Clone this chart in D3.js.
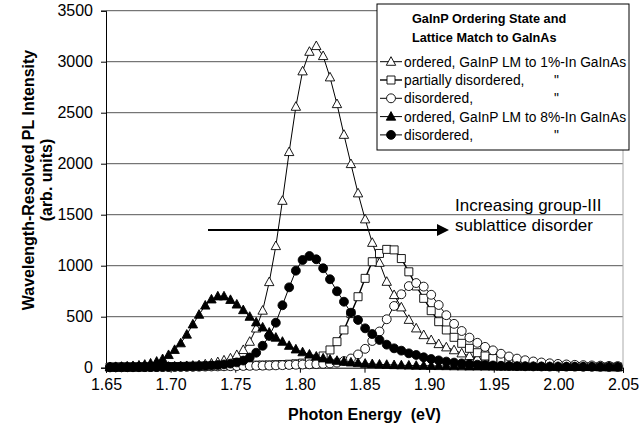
<!DOCTYPE html>
<html>
<head>
<meta charset="utf-8">
<script src="https://cdn.jsdelivr.net/npm/d3@7/dist/d3.min.js"></script>
<style>
  body { margin: 0; background: #fff; }
  text { font-family: "Liberation Sans", Arial, sans-serif; fill: #000; }
</style>
</head>
<body>
<svg id="chart" width="639" height="436"></svg>
<script>
// photon energy (eV) of each sample, 2 nm steps from 750 nm down to 606 nm
const energy = [
  1.6531, 1.6575, 1.6620, 1.6664, 1.6709, 1.6755, 1.6800, 1.6845, 1.6892, 1.6938,
  1.6984, 1.7031, 1.7078, 1.7125, 1.7172, 1.7220, 1.7268, 1.7316, 1.7365, 1.7413,
  1.7463, 1.7512, 1.7562, 1.7612, 1.7662, 1.7712, 1.7763, 1.7814, 1.7865, 1.7917,
  1.7969, 1.8021, 1.8074, 1.8127, 1.8180, 1.8233, 1.8287, 1.8341, 1.8395, 1.8450,
  1.8505, 1.8560, 1.8616, 1.8672, 1.8729, 1.8785, 1.8843, 1.8900, 1.8958, 1.9016,
  1.9074, 1.9133, 1.9193, 1.9252, 1.9312, 1.9373, 1.9433, 1.9494, 1.9556, 1.9618,
  1.9680, 1.9743, 1.9806, 1.9869, 1.9933, 1.9997, 2.0062, 2.0127, 2.0193, 2.0259,
  2.0325, 2.0392, 2.0459
];

const ordered1 = [
  4, 4, 5, 5, 6, 6, 7, 8, 9, 10, 10, 12,
  14, 17, 21, 26, 33, 42, 55, 72, 92, 125,
  174, 255, 385, 560, 840, 1193, 1637, 2115, 2559, 2906,
  3098, 3154, 3056, 2847, 2585, 2284, 1997, 1710, 1455, 1225,
  1029, 843, 713, 592, 470, 386, 320, 271, 232, 200,
  172, 141, 115, 92, 75, 62, 51, 42, 35, 29,
  24, 20, 17, 14, 12, 10, 9, 8, 7, 6, 6
];

const partial1 = [
  6, 6, 7, 7, 8, 8, 9, 9, 10, 10, 11, 11,
  12, 13, 14, 15, 16, 17, 18, 19, 20, 22,
  23, 24, 25, 26, 27, 29, 31, 34, 38, 45,
  60, 85, 115, 174, 255, 370, 530, 696, 876, 1039,
  1120, 1160, 1155, 1070, 940, 801, 680, 559, 451, 370,
  298, 239, 190, 147, 115, 90, 72, 58, 46, 38,
  31, 26, 22, 19, 16, 14, 12, 11, 10, 9, 8
];

const disordered1 = [
  4, 4, 4, 5, 5, 5, 6, 6, 6, 7, 7, 8,
  8, 9, 9, 10, 11, 12, 13, 14, 15, 16,
  17, 18, 19, 20, 21, 23, 25, 27, 29, 31,
  33, 35, 38, 42, 50, 65, 90, 130, 185, 262,
  355, 475, 605, 720, 800, 830, 795, 715, 615, 515,
  430, 360, 295, 244, 204, 170, 137, 110, 89, 73,
  61, 51, 43, 37, 32, 28, 25, 22, 20, 18, 16
];

const ordered8 = [
  7, 8, 10, 13, 17, 22, 30, 42, 60, 85, 125, 175,
  240, 325, 425, 520, 610, 670, 700, 700, 665, 620,
  565, 500, 445, 395, 345, 295, 255, 215, 180, 152,
  130, 110, 92, 80, 68, 60, 52, 46, 40, 36,
  32, 29, 26, 24, 22, 20, 19, 18, 17, 16,
  15, 14, 13, 13, 12, 12, 11, 11, 10, 10,
  10, 9, 9, 9, 8, 8, 8, 8, 7, 7, 7
];

const disordered8 = [
  4, 4, 5, 5, 5, 6, 6, 7, 7, 8, 9, 10,
  11, 12, 13, 15, 18, 22, 26, 32, 40, 52,
  70, 100, 147, 215, 311, 441, 612, 788, 951, 1056,
  1095, 1063, 975, 867, 749, 647, 539, 468, 386, 330,
  272, 226, 190, 167, 141, 125, 102, 85, 72, 60,
  50, 42, 36, 30, 26, 22, 19, 17, 15, 14,
  13, 12, 11, 11, 10, 10, 9, 9, 9, 8, 8
];

const xTicks = [1.65, 1.70, 1.75, 1.80, 1.85, 1.90, 1.95, 2.00, 2.05];
const yTicks = [0, 500, 1000, 1500, 2000, 2500, 3000, 3500];

const legendTitle = ["GaInP Ordering State and", "Lattice Match to GaInAs"];
const legendLabels = [
  "ordered, GaInP LM to 1%-In GaInAs",
  "partially disordered,",
  "disordered,",
  "ordered, GaInP LM to 8%-In GaInAs",
  "disordered,"
];
const legendDitto = [false, true, true, false, true];

const series = [
  { values: ordered1, shape: "triangle", fill: "#fff" },
  { values: partial1, shape: "square", fill: "#fff" },
  { values: disordered1, shape: "circle", fill: "#fff" },
  { values: ordered8, shape: "triangle", fill: "#000" },
  { values: disordered8, shape: "circle", fill: "#000" }
];

const svg = d3.select("#chart");
const plotLeft = 106, plotRight = 623, plotTop = 10.7, plotBottom = 367.7;

const x = d3.scaleLinear().domain([1.65, 2.05]).range([plotLeft, plotRight]);
const y = d3.scaleLinear().domain([0, 3500]).range([plotBottom, plotTop]);

// gridlines
svg.append("g")
  .selectAll("line")
  .data(yTicks.slice(1))
  .join("line")
    .attr("x1", plotLeft).attr("x2", plotRight)
    .attr("y1", d => y(d)).attr("y2", d => y(d))
    .attr("stroke", "#555").attr("stroke-width", 1);

// right border of the plot area
svg.append("line")
  .attr("x1", plotRight).attr("x2", plotRight)
  .attr("y1", plotTop).attr("y2", plotBottom)
  .attr("stroke", "#aaa");

const xAxis = svg.append("g")
  .attr("transform", `translate(0,${plotBottom})`)
  .call(d3.axisBottom(x).tickValues(xTicks).tickFormat(d3.format(".2f")).tickSizeOuter(0).tickSize(5).tickPadding(6));

const yAxis = svg.append("g")
  .attr("transform", `translate(${plotLeft},0)`)
  .call(d3.axisLeft(y).tickValues(yTicks).tickFormat(d3.format("d")).tickSizeOuter(0).tickSize(5).tickPadding(8));

[xAxis, yAxis].forEach(g => {
  g.select(".domain").attr("stroke", "#000");
  g.selectAll(".tick line").attr("stroke", "#000");
  g.selectAll(".tick text")
    .attr("font-family", '"Liberation Sans", Arial, sans-serif')
    .attr("font-size", "16px").attr("fill", "#000");
});

// axis titles
svg.append("text")
  .attr("x", (plotLeft + plotRight) / 2).attr("y", 420)
  .attr("text-anchor", "middle")
  .style("white-space", "pre")
  .attr("font-size", "16px").attr("font-weight", "bold")
  .text("Photon Energy  (eV)");

const yTitle = svg.append("text")
  .attr("transform", "translate(34,180) rotate(-90)")
  .attr("text-anchor", "middle")
  .attr("font-size", "16px").attr("font-weight", "bold");
yTitle.append("tspan").attr("x", 0).attr("y", 0).text("Wavelength-Resolved PL Intensity");
yTitle.append("tspan").attr("x", 0).attr("y", 18).text("(arb. units)");

function markerPath(shape) {
  if (shape === "triangle") return "M0,-5L4.7,3.6L-4.7,3.6Z";
  if (shape === "square") return "M-4,-4H4V4H-4Z";
  return d3.symbol(d3.symbolCircle, 62)();
}

const line = d3.line()
  .x((d, i) => x(energy[i]))
  .y(d => y(d));

series.forEach(s => {
  const g = svg.append("g");
  g.append("path")
    .datum(s.values)
    .attr("d", line)
    .attr("fill", "none")
    .attr("stroke", "#000")
    .attr("stroke-width", s.shape === "square" ? 1.4 : 1);
  g.selectAll("path.m")
    .data(s.values)
    .join("path")
      .attr("class", "m")
      .attr("transform", (d, i) => `translate(${x(energy[i])},${y(d)})`)
      .attr("d", markerPath(s.shape))
      .attr("fill", s.fill)
      .attr("stroke", "#000")
      .attr("stroke-width", 0.9);
});

// annotation
svg.append("defs").append("marker")
  .attr("id", "arrowhead")
  .attr("viewBox", "0 0 10 10")
  .attr("refX", 0).attr("refY", 5)
  .attr("markerWidth", 7).attr("markerHeight", 6)
  .attr("markerUnits", "strokeWidth")
  .attr("orient", "auto")
  .append("path").attr("d", "M0,0L10,5L0,10Z").attr("fill", "#000");

svg.append("line")
  .attr("x1", 208).attr("x2", 437)
  .attr("y1", 230).attr("y2", 230)
  .attr("stroke", "#000").attr("stroke-width", 2)
  .attr("marker-end", "url(#arrowhead)");

svg.append("text").attr("x", 455).attr("y", 211)
  .attr("font-size", "17px").text("Increasing group-III");
svg.append("text").attr("x", 455).attr("y", 231)
  .attr("font-size", "17px").text("sublattice disorder");

// legend
const legend = svg.append("g");
legend.append("rect")
  .attr("x", 377).attr("y", 4).attr("width", 252).attr("height", 146)
  .attr("fill", "#fff").attr("stroke", "#000");

legend.selectAll("text.title")
  .data(legendTitle)
  .join("text")
    .attr("class", "title")
    .attr("x", 412).attr("y", (d, i) => 23 + i * 18.5)
    .attr("font-size", "12.7px").attr("font-weight", "bold")
    .text(d => d);

const rows = legend.selectAll("g.row")
  .data(series)
  .join("g")
    .attr("class", "row")
    .attr("transform", (d, i) => `translate(0,${61.7 + i * 18.3})`);

rows.append("line")
  .attr("x1", 380).attr("x2", 402)
  .attr("stroke", "#000").attr("stroke-width", (d) => d.shape === "square" ? 1.4 : 1);

rows.append("path")
  .attr("transform", "translate(391,0)")
  .attr("d", d => markerPath(d.shape))
  .attr("fill", d => d.fill)
  .attr("stroke", "#000")
  .attr("stroke-width", 0.9);

rows.append("text")
  .attr("x", 404).attr("y", 5)
  .attr("font-size", "13.8px")
  .text((d, i) => legendLabels[i]);

rows.filter((d, i) => legendDitto[i])
  .append("text")
    .attr("x", 554).attr("y", 5)
    .attr("font-size", "13.8px")
    .text('"');
</script>
</body>
</html>
